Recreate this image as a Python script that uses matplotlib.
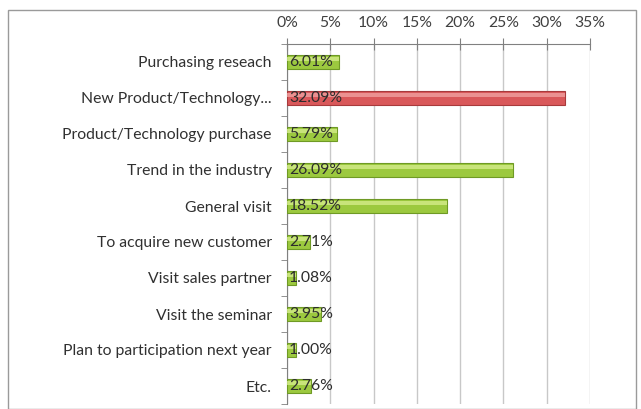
import matplotlib
matplotlib.use("Agg")
import matplotlib.pyplot as plt
from matplotlib.patches import Rectangle
from matplotlib.ticker import FuncFormatter, MultipleLocator, FixedLocator
import numpy as np

categories = ["Purchasing reseach", "New Product/Technology...", "Product/Technology purchase",
              "Trend in the industry", "General visit", "To acquire new customer",
              "Visit sales partner", "Visit the seminar", "Plan to participation next year", "Etc."]
values = [6.01, 32.09, 5.79, 26.09, 18.52, 2.71, 1.08, 3.95, 1.00, 2.76]
highlight = "New Product/Technology..."

plt.rcParams['font.family'] = ['Lato', 'DejaVu Sans']

fig = plt.figure(figsize=(6.41, 4.09), dpi=100)
fig.patches.append(Rectangle((8/641, 0.0), (636-8)/641, 1 - 10/409, transform=fig.transFigure,
                             fill=False, edgecolor='#9a9a9a', linewidth=1.0))
ax = fig.add_axes([287/641, 1 - 404/409, (590-287)/641, (404-44)/409])

y = np.arange(len(categories))
colors = ['#d9585a' if c == highlight else '#9cc93f' for c in categories]
edges = ['#a83a3c' if c == highlight else '#6f9a25' for c in categories]
ax.barh(y, values, height=0.4, color=colors, edgecolor=edges, linewidth=0.8, zorder=3)
hl = ['#f0a0a0' if c == highlight else '#d4ec8a' for c in categories]
ax.barh(y - 0.08, values, height=0.12, color=hl, linewidth=0, zorder=4, alpha=0.8)

for yi, v in zip(y, values):
    ax.text(0.25, yi, f"{v:.2f}%", va='center', ha='left', fontsize=11.3, color='#2d2d2d', zorder=5)

ax.set_ylim(len(categories) - 0.5, -0.5)
ax.set_xlim(0, 35)
ax.xaxis.set_major_locator(MultipleLocator(5))
ax.xaxis.set_major_formatter(FuncFormatter(lambda v, p: f"{int(v)}%"))
ax.xaxis.tick_top()
ax.tick_params(axis='x', direction='inout', length=8, colors='#808080', labelcolor='#404040',
               labelsize=11.3, pad=6)
ax.set_yticks(y)
ax.set_yticklabels(categories, fontsize=11.3, color='#303030')
ax.yaxis.set_minor_locator(FixedLocator(np.arange(-0.5, len(categories), 1.0)))
ax.tick_params(axis='y', which='major', length=0, pad=11)
ax.tick_params(axis='y', which='minor', length=4, direction='out', color='#808080')
ax.grid(axis='x', color='#c8c8c8', linewidth=1.0, zorder=0)
for s in ['right', 'bottom']:
    ax.spines[s].set_visible(False)
ax.spines['top'].set_color('#808080')
ax.spines['left'].set_color('#808080')

fig.savefig("out.png", dpi=100)
